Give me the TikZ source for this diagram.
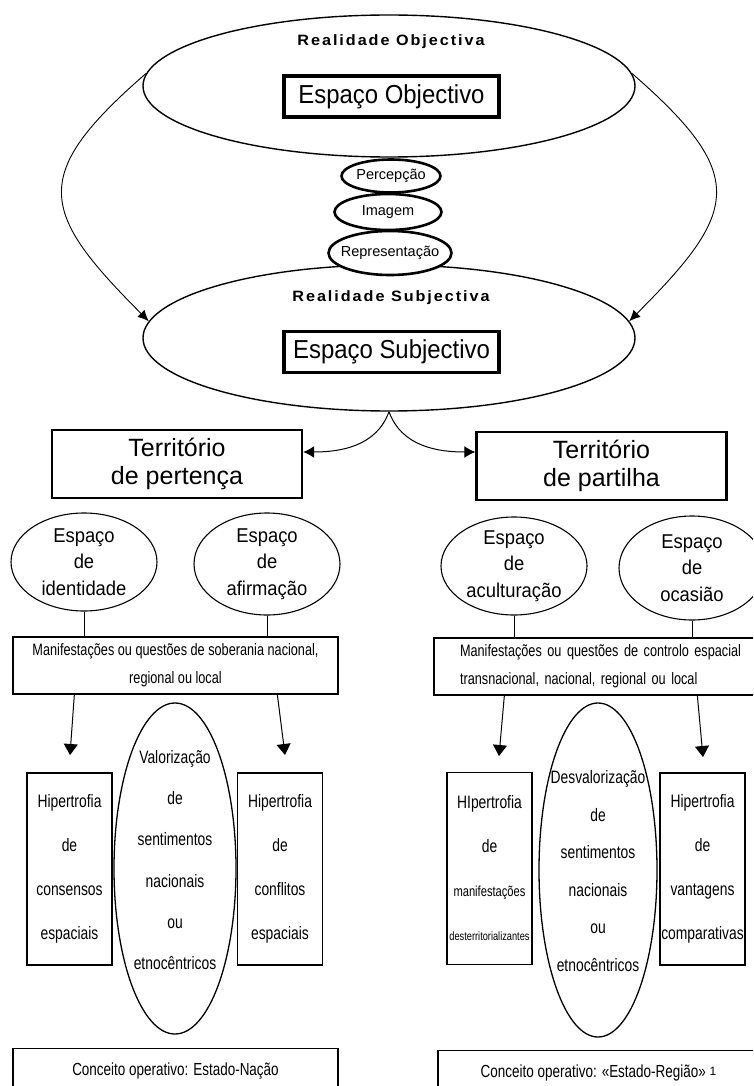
\documentclass[tikz,border=0pt]{standalone}
\usepackage{fontspec}
\setmainfont{Liberation Sans}
\newfontfamily\narrowfont[FakeStretch=0.77]{Liberation Sans}
\newfontfamily\midfont[FakeStretch=0.92]{Liberation Sans}
\newfontfamily\widefont[LetterSpace=13,FakeStretch=1.08]{Liberation Sans}
\usetikzlibrary{arrows.meta,shapes.geometric,positioning}
\tikzset{
	bigell/.style={draw, ellipse, line width=1.4pt, minimum width=492pt, minimum height=142pt, inner sep=0pt},
	realtext/.style={font=\widefont\bfseries\fontsize{15}{17}\selectfont},
	espbox/.style={draw, line width=3.8pt, minimum width=215pt, minimum height=41pt, inner sep=0pt, font=\midfont\fontsize{26}{28}\selectfont},
	stepell/.style={draw, ellipse, fill=white, line width=2.6pt, inner sep=0pt},
	steptext/.style={font=\fontsize{14.5}{16}\selectfont},
	terrbox/.style={draw, line width=2.4pt, minimum width=250pt, minimum height=68pt, inner sep=0pt, align=center, font=\fontsize{25}{28}\selectfont},
	espell/.style={draw, ellipse, line width=1.1pt, minimum width=146pt, minimum height=98pt, inner sep=0pt},
	esptext/.style={align=center, font=\midfont\fontsize{20}{26.5}\selectfont},
	manbox/.style={draw, line width=1.3pt, minimum height=57pt, inner sep=0pt, font=\narrowfont\fontsize{16.5}{28}\selectfont},
	hipbox/.style={draw, line width=1.3pt, minimum width=85pt, minimum height=192pt, inner sep=0pt, align=center, font=\narrowfont\fontsize{18}{44}\selectfont},
	tallell/.style={draw, ellipse, line width=1.3pt, inner sep=0pt},
	talltext/.style={align=center, font=\narrowfont\fontsize{18}{41.2}\selectfont},
	conbox/.style={draw, line width=1.3pt, anchor=north, minimum height=44pt, inner sep=0pt, font=\narrowfont\fontsize{17.5}{20}\selectfont},
	backarc/.style={line width=0.9pt, -{Latex[length=11pt,width=10pt]}},
	splitarrow/.style={line width=1pt, -{Latex[length=11pt,width=12pt]}},
	stem/.style={line width=0.9pt},
	droparrow/.style={line width=1pt, -{Triangle[length=11pt,width=14pt]}},
}

\begin{document}
\begin{tikzpicture}[x=1pt, y=-1pt]
	\useasboundingbox (0,0) rectangle (753,1086);
	\clip (0,0) rectangle (753,1086);
	
	% Objective reality
	\node[bigell] (topell) at (389,86) {};
	\node[realtext] (objlbl) at (391,42) {Realidade Objectiva};
	\node[espbox] (espobj) at (391.5,96.5) {Espaço Objectivo};
	
	% Subjective reality
	\node[bigell, minimum height=146pt] (botell) at (389,338) {};
	\node[realtext] (subjlbl) at (391,298) {Realidade Subjectiva};
	\node[espbox] (espsubj) at (391.5,352) {Espaço Subjectivo};
	
	% Outer arcs (objective -> subjective)
	\draw[backarc] (topell.177) to[out=221, in=135, looseness=1.6] (botell.176);
	\draw[backarc] (topell.3) to[out=-41, in=45, looseness=1.6] (botell.4);
	
	% Stack of the three steps
	\node[stepell, minimum width=99pt, minimum height=33pt] (percep) at (391,176) {};
	\node[steptext] (perceptxt) at (percep) {Percepção};
	\node[stepell, minimum width=107pt, minimum height=36pt] (imagem) at (388,212) {};
	\node[steptext] (imagemtxt) at (imagem) {Imagem};
	\node[stepell, minimum width=123pt, minimum height=44pt] (repres) at (390,253) {};
	\node[steptext] (represtxt) at (repres) {Representação};
	
	% Two territories
	\node[terrbox] (terrL) at (177,464) {Território\\de pertença};
	\node[terrbox] (terrR) at (601.5,466) {Território\\de partilha};
	\draw[splitarrow] (botell.south) to[out=250, in=0] ([yshift=12pt]terrL.east);
	\draw[splitarrow] (botell.south) to[out=290, in=180] ([yshift=14pt]terrR.west);
	
	% Spaces
	\node[espell] (ident) at (84,562) {};
	\node[esptext] (identtxt) at (ident) {Espaço\\de\\identidade};
	\node[espell, minimum height=102pt] (afirm) at (267,564) {};
	\node[esptext] (afirmtxt) at (afirm) {Espaço\\de\\afirmação};
	\node[espell] (acult) at (514,566) {};
	\node[esptext] (acultxt) at (acult) {Espaço\\de\\aculturação};
	\node[espell, minimum height=104pt] (ocas) at (692,568) {};
	\node[esptext] (ocastxt) at (ocas) {Espaço\\de\\ocasião};
	
	% Manifestations
	\node[manbox, minimum width=325pt, align=center] (manL) at (175.5,665.5)
		{Manifestações ou questões de soberania nacional,\\regional ou local};
	\node[manbox, text width=290pt, inner xsep=26pt, align=left] (manR) at (605,666.5)
		{Manifestações ou questões de controlo espacial\\transnacional, nacional, regional ou local};
	\draw[stem] (ident.south) -- (ident.south |- manL.north);
	\draw[stem] (afirm.south) -- (afirm.south |- manL.north);
	\draw[stem] (acult.south) -- (acult.south |- manR.north);
	\draw[stem] (ocas.south) -- (ocas.south |- manR.north);
	
	% Arrow ends
	\coordinate (tipA) at (70,755);
	\coordinate (tipB) at (285,755);
	\coordinate (tipC) at (499,756);
	\coordinate (tipD) at (703,757);
	\draw[droparrow] (manL.south west) ++(62,0) -- (tipA);
	\draw[droparrow] (manL.south west) ++(265,0) -- (tipB);
	\draw[droparrow] (manR.south west) ++(71,0) -- (tipC);
	\draw[droparrow] (manR.south west) ++(264,0) -- (tipD);
	
	% Left column
	\node[hipbox] (hipL1) at (69.5,869) {Hipertrofia\\de\\consensos\\espaciais};
	\node[tallell, minimum width=122pt, minimum height=331pt] (valL) at (175,868.5) {};
	\node[talltext] (valLtxt) at (175,860) {Valorização\\de\\sentimentos\\nacionais\\ou\\etnocêntricos};
	\node[hipbox] (hipL2) at (280,869) {Hipertrofia\\de\\conflitos\\espaciais};
	
	% Right column
	\node[hipbox] (hipR1) at (489.5,868.5) {HIpertrofia\\de\\{\fontsize{14.5}{44}\selectfont manifestações}\\{\fontsize{12}{44}\selectfont desterritorializantes}};
	\node[tallell, minimum width=118pt, minimum height=334pt] (valR) at (598,870) {};
	\node[talltext, font=\narrowfont\fontsize{18}{37.5}\selectfont] (valRtxt) at (598,871) {Desvalorização\\de\\sentimentos\\nacionais\\ou\\etnocêntricos};
	\node[hipbox] (hipR2) at (702.5,869) {Hipertrofia\\de\\vantagens\\comparativas};
	
	% Operative concepts
	\node[conbox, minimum width=325pt] (conL) at (175.5,1048) {Conceito operativo: Estado-Nação};
	\node[conbox, minimum width=321pt] (conR) at (598.5,1050)
		{Conceito operativo: «Estado-Região» \raisebox{2pt}{\normalfont\fontsize{12}{12}\selectfont 1}};
	
\end{tikzpicture}
\end{document}
